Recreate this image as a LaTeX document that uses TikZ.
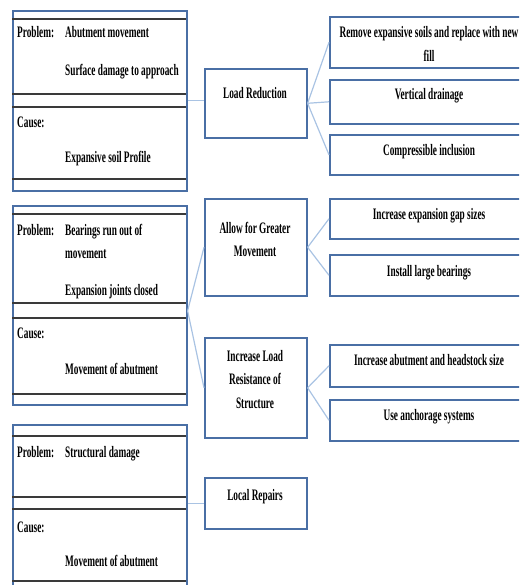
\documentclass[tikz,border=0pt]{standalone}
\usepackage{fontspec}
\setmainfont[FakeStretch=0.58]{Liberation Serif}
\definecolor{bblue}{HTML}{4A6FA5}
\definecolor{inln}{HTML}{3A3A3A}
\definecolor{lblue}{HTML}{A9C3E3}
\begin{document}
\begin{tikzpicture}[x=1pt,y=-1pt,
  bx/.style={draw=bblue, line width=1.6pt, inner sep=0pt, anchor=north west},
  inl/.style={draw=inln, line width=1.2pt},
  con/.style={draw=lblue, line width=1.2pt},
  txt/.style={font=\fontsize{16}{19}\selectfont\bfseries, inner sep=0pt, text=black}]
\useasboundingbox (0,0) rectangle (519,585);
\clip (0,0) rectangle (519,585);
% ---------- left boxes ----------
\node[bx, minimum width=174pt, minimum height=180pt] (lb1) at (12,10) {};
\draw[inl] (12,19) -- (186,19) (12,94) -- (186,94) (12,107) -- (186,107) (12,179) -- (186,179);
\node[bx, minimum width=174pt, minimum height=199pt] (lb2) at (12,205) {};
\draw[inl] (12,214) -- (186,214) (12,303) -- (186,303) (12,318) -- (186,318) (12,394) -- (186,394);
\node[bx, minimum width=174pt, minimum height=168pt] (lb3) at (12,424) {};
\draw[inl] (12,436) -- (186,436) (12,497) -- (186,497) (12,509) -- (186,509) (12,581) -- (186,581);
% left texts
\node[txt, anchor=base west] (p1) at (17,38) {Problem:};
\node[txt, anchor=base west] (p1a) at (65,38) {Abutment movement};
\node[txt, anchor=base west] (p1b) at (65,76) {Surface damage to approach};
\node[txt, anchor=base west] (c1) at (17,128) {Cause:};
\node[txt, anchor=base west] (c1a) at (65,163) {Expansive soil Profile};
\node[txt, anchor=base west] (p2) at (17,235) {Problem:};
\node[txt, anchor=base west] (p2a) at (65,235) {Bearings run out of};
\node[txt, anchor=base west] (p2b) at (65,258) {movement};
\node[txt, anchor=base west] (p2c) at (65,295) {Expansion joints closed};
\node[txt, anchor=base west] (c2) at (17,338) {Cause:};
\node[txt, anchor=base west] (c2a) at (65,374) {Movement of abutment};
\node[txt, anchor=base west] (p3) at (17,457) {Problem:};
\node[txt, anchor=base west] (p3a) at (65,457) {Structural damage};
\node[txt, anchor=base west] (c3) at (17,532) {Cause:};
\node[txt, anchor=base west] (c3a) at (65,566) {Movement of abutment};
% ---------- middle boxes ----------
\node[bx, minimum width=102pt, minimum height=69pt] (lr) at (204,68) {};
\node[bx, minimum width=102pt, minimum height=97pt] (al) at (204,198) {};
\node[bx, minimum width=102pt, minimum height=100pt] (inc) at (204,337) {};
\node[bx, minimum width=102pt, minimum height=51pt] (loc) at (204,477) {};
\node[txt, anchor=base] (lrt) at (255,99) {Load Reduction};
\node[txt, anchor=base] (alt1) at (255,233) {Allow for Greater};
\node[txt, anchor=base] (alt2) at (255,256) {Movement};
\node[txt, anchor=base] (inct1) at (255,361) {Increase Load};
\node[txt, anchor=base] (inct2) at (255,384) {Resistance of};
\node[txt, anchor=base] (inct3) at (255,408) {Structure};
\node[txt, anchor=base] (loct) at (255,500) {Local Repairs};
% ---------- right boxes ----------
\node[bx, minimum width=200pt, minimum height=51pt] (r1) at (329,16) {};
\node[bx, minimum width=200pt, minimum height=44pt] (r2) at (329,79) {};
\node[bx, minimum width=200pt, minimum height=40pt] (r3) at (329,134) {};
\node[bx, minimum width=200pt, minimum height=40pt] (r4) at (329,198) {};
\node[bx, minimum width=200pt, minimum height=41pt] (r5) at (329,254) {};
\node[bx, minimum width=200pt, minimum height=42pt] (r6) at (329,344) {};
\node[bx, minimum width=200pt, minimum height=41pt] (r7) at (329,399) {};
\node[txt, anchor=base] (r1t1) at (429,38) {Remove expansive soils and replace with new};
\node[txt, anchor=base] (r1t2) at (429,62) {fill};
\node[txt, anchor=base] (r2t) at (429,100) {Vertical drainage};
\node[txt, anchor=base] (r3t) at (429,156) {Compressible inclusion};
\node[txt, anchor=base] (r4t) at (429,219) {Increase expansion gap sizes};
\node[txt, anchor=base] (r5t) at (429,276) {Install large bearings};
\node[txt, anchor=base] (r6t) at (429,365) {Increase abutment and headstock size};
\node[txt, anchor=base] (r7t) at (429,420) {Use anchorage systems};
% ---------- connectors ----------
\draw[con] (lb1.east) -- (lb1.east -| lr.west);
\draw[con] (lr.east) -- (r1.west);
\draw[con] (lr.east) -- (r2.west);
\draw[con] (lr.east) -- (r3.west);
\draw[con] ([yshift=-5.5pt]lb2.east) -- (al.west);
\draw[con] ([yshift=-5.5pt]lb2.east) -- (inc.west);
\draw[con] (al.east) -- (r4.west);
\draw[con] (al.east) -- (r5.west);
\draw[con] (inc.east) -- (r6.west);
\draw[con] (inc.east) -- (r7.west);
\draw[con] (loc.west -| lb3.east) -- (loc.west);
\end{tikzpicture}
\end{document}
